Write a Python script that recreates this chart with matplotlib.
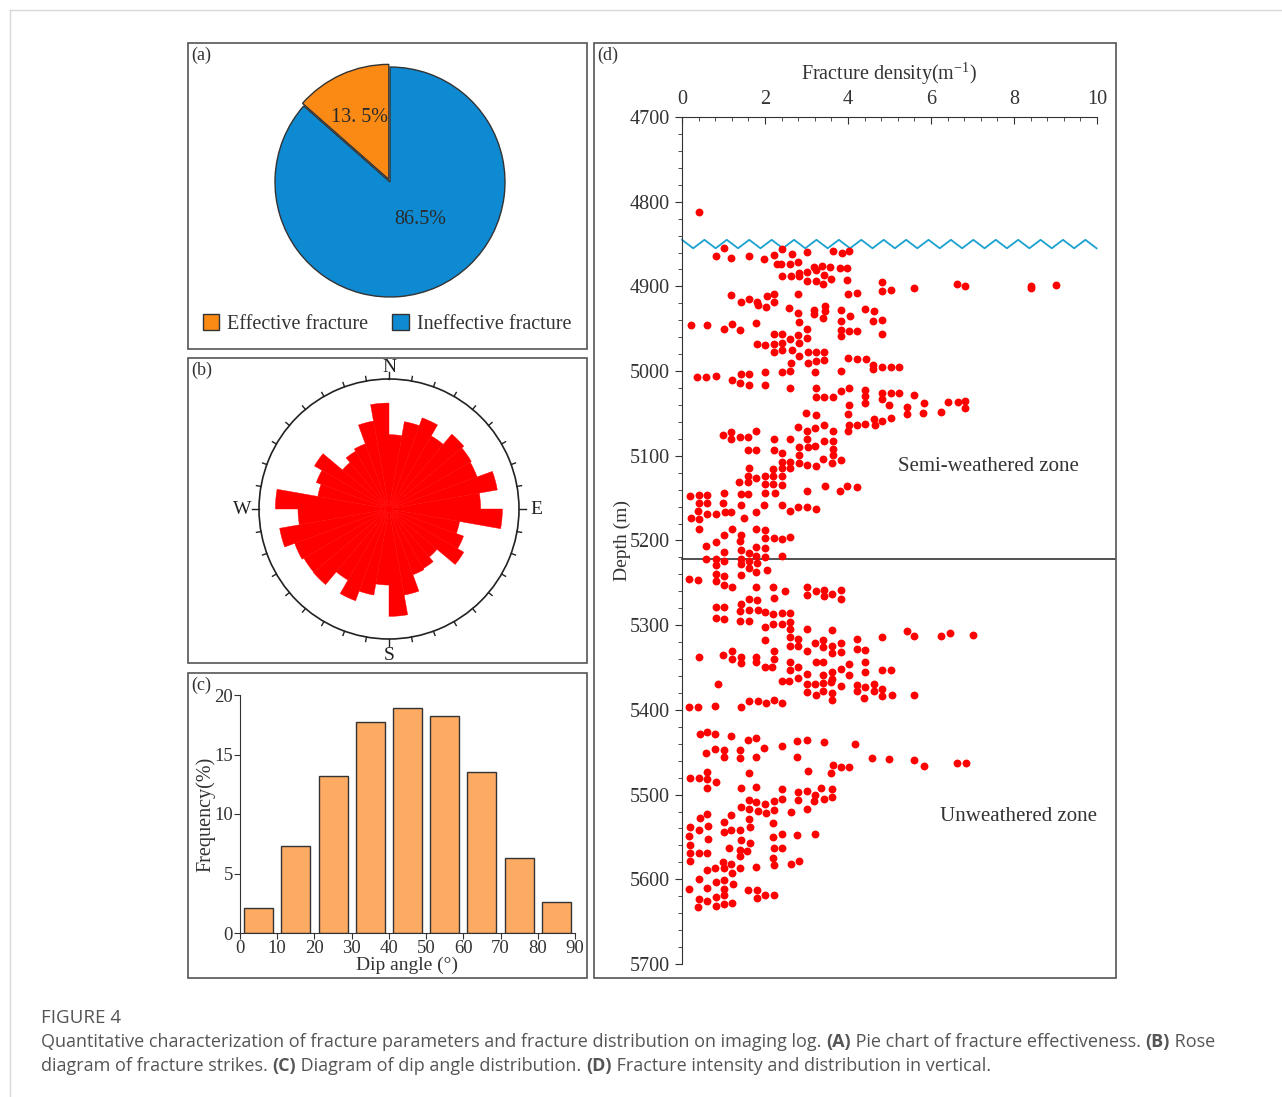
import numpy as np
import matplotlib.pyplot as plt
from matplotlib.patches import Rectangle, Patch
from matplotlib.lines import Line2D

plt.rcParams['font.family'] = ['Liberation Serif', 'DejaVu Serif']
plt.rcParams['mathtext.fontset'] = 'custom'
plt.rcParams['mathtext.rm'] = 'Liberation Serif'

W, H = 1282, 1097


def box(l, t, r, b):
    # pixel rectangle (left, top, right, bottom) -> figure fraction
    return [l / W, 1 - b / H, (r - l) / W, (b - t) / H]


# (a) fracture effectiveness
pie_labels = ['Effective fracture', 'Ineffective fracture']
pie_values = [13.5, 86.5]
pie_text = ['13. 5%', '86.5%']
pie_colors = ['#FA8A14', '#0D8AD2']

# (b) strike rose, 10 degree bins clockwise from north
strike_bins = np.arange(0, 360, 10)
strike_freq = [5.72, 6.82, 7.46, 6.49, 7.51, 7.31, 7.21, 8.46, 7.05,
               8.72, 5.51, 6.10, 6.64, 4.82, 5.28, 5.38, 6.72, 8.26,
               5.85, 6.72, 7.51, 6.31, 7.59, 7.56, 7.72, 8.54, 7.00,
               8.74, 5.56, 5.95, 6.62, 4.67, 5.13, 5.33, 6.87, 8.15]

# (c) dip angle distribution
dip_centers = [5, 15, 25, 35, 45, 55, 65, 75, 85]
dip_freq = [2.1, 7.3, 13.2, 17.7, 18.9, 18.2, 13.5, 6.3, 2.6]

# (d) fracture density vs depth
density = [
    0.40,
    1.01, 0.82, 1.19, 1.61, 1.97, 2.21, 2.41, 2.64, 3.01, 3.64, 3.86, 4.02,
    2.29, 2.38, 2.60, 2.80, 3.19, 3.22, 3.38, 3.57, 3.80, 3.97, 2.41, 2.62,
    2.82, 2.82, 3.00, 3.02, 3.22, 3.40, 3.41, 3.60, 3.97, 4.83, 4.83, 5.03,
    5.58, 4.00, 4.22, 1.19, 1.41, 1.61, 1.81, 1.82, 2.04, 2.21, 2.21, 2.03,
    2.80, 2.57, 2.80, 3.19, 3.19, 3.44, 3.44, 3.40, 3.82, 4.05, 4.42, 4.63,
    4.60, 4.83, 4.83, 0.21, 0.60, 1.01, 1.21, 1.39, 1.78, 2.82, 3.02, 3.82,
    3.82, 3.82, 4.02, 4.22, 2.21, 2.41, 2.60, 2.80, 3.00, 1.81, 2.01, 2.21,
    2.41, 2.82, 2.21, 2.41, 2.64, 2.82, 3.03, 3.03, 3.22, 3.22, 3.43, 3.43,
    2.62, 3.99, 4.22, 4.43, 4.61, 4.61, 4.83, 5.03, 5.23, 3.20, 3.82, 0.37,
    0.59, 0.82, 1.21, 1.41, 1.61, 1.39, 1.61, 2.01, 2.01, 2.41, 2.61, 2.61,
    3.23, 3.23, 3.43, 3.65, 3.82, 4.03, 4.42, 4.42, 4.83, 4.83, 5.04, 5.23,
    5.58,
    6.62, 6.82, 8.41, 8.41, 9.02, 5.43, 5.43, 5.82, 5.80, 6.23, 6.42, 6.64,
    6.82, 6.82,
    4.02, 4.42, 4.99, 2.98, 3.22, 4.01, 4.02, 4.01, 4.22, 4.42, 4.63, 4.65,
    4.83, 5.03, 0.99, 1.19, 1.19, 1.39, 1.59, 1.79, 2.22, 2.61, 2.80, 3.00,
    3.00, 3.20, 3.42, 3.64, 3.03, 3.20, 3.42, 3.64, 3.64, 3.64, 3.62, 3.40,
    3.82, 2.82, 2.82, 2.82, 3.02, 3.22, 1.58, 1.79, 2.22, 2.41, 2.41, 2.41,
    2.41, 2.61, 2.61, 1.61, 1.59, 1.79, 2.00, 2.00, 2.19, 2.19, 2.19, 2.40,
    1.37, 1.59, 1.41, 1.59, 2.00, 2.24, 3.00, 3.44, 3.81, 3.98, 4.22, 0.19,
    0.41, 0.61, 0.41, 0.61, 1.01, 0.99, 1.03, 1.19, 1.41, 1.78, 1.98, 2.41,
    2.61, 2.80, 3.00, 3.22, 0.21, 0.39, 0.41, 0.60, 0.83, 0.41, 1.49, 1.21,
    1.01, 1.41, 1.79, 2.01, 2.01, 2.21, 2.41, 2.61, 0.59, 0.81, 1.39, 1.01,
    1.41, 1.61, 1.79, 2.00, 2.00, 1.79, 2.41, 0.59, 0.81, 1.01, 1.41, 1.61,
    1.81,
    0.81, 1.41, 0.81, 1.01, 1.41, 1.61, 1.79, 2.04, 0.16, 0.39, 0.81, 1.01,
    1.21, 1.79, 2.20, 2.48, 2.22, 3.00, 3.00, 3.22, 3.43, 3.43, 3.62, 3.83,
    3.83, 1.61, 1.81, 1.42, 0.81, 1.01, 1.39, 1.61, 1.82, 2.01, 2.20, 2.41,
    2.61, 0.81, 1.01, 1.39, 1.61, 2.00, 2.20, 2.40, 2.60, 2.61, 2.00, 2.60,
    2.80, 2.80, 2.60, 3.02, 3.62, 3.00, 3.20, 3.40, 3.40, 3.62, 3.62, 3.82,
    3.82, 4.21, 4.21, 4.42, 4.83, 5.43, 5.59, 0.40, 0.99, 1.21, 1.21, 1.41,
    1.41, 1.79, 1.79, 2.00, 2.17, 2.22, 2.22, 2.61, 2.60, 2.80, 3.00, 3.22,
    3.40, 3.40, 3.62, 3.62, 3.82, 3.82, 4.02, 4.02, 4.41, 4.41, 4.81, 5.04,
    2.80, 2.40, 2.57, 0.87, 3.00, 3.20, 3.40, 3.60, 3.00, 3.22, 3.40, 3.62,
    3.62, 4.21, 4.21, 4.42, 4.38, 4.63, 4.63, 4.83, 4.81, 5.05, 5.59, 0.18,
    0.39, 0.79, 1.43, 1.61, 1.82, 2.03, 2.21, 2.42, 6.23, 6.46, 7.02,
    0.43, 0.61, 0.80, 1.19, 1.59, 1.79, 1.98, 2.40, 2.78, 3.00, 3.43, 4.18,
    0.59, 0.80, 1.01, 1.01, 1.39, 1.39, 1.79, 2.78, 4.59, 4.99, 5.58, 3.65,
    3.83, 4.02, 3.60, 3.03, 1.61, 0.60, 0.20, 0.40, 0.60, 0.81, 0.60, 1.41,
    1.79, 2.41, 2.80, 3.00, 3.20, 3.36, 3.62, 3.42, 3.62, 3.19, 2.80, 2.41,
    2.21, 2.00, 1.79, 1.61, 1.41, 1.61, 1.83, 2.03, 2.22, 2.62, 3.00, 1.19,
    0.60, 0.43, 0.19, 0.40, 0.63, 1.01, 1.61, 1.65, 2.20, 1.01, 1.19, 1.39,
    0.16, 0.63, 1.41, 1.63, 2.20, 2.41, 2.78, 3.20, 0.19, 1.13, 1.39, 1.57,
    2.21, 2.41, 0.20, 0.40, 0.61, 1.39, 0.20, 2.20, 2.21, 2.62, 2.82, 0.99,
    1.19, 1.78, 0.80, 1.01, 1.39, 0.61, 1.21, 0.40, 0.81, 1.01, 1.23, 0.17,
    0.61, 1.01, 1.59, 1.81, 1.81, 2.00, 2.21, 1.01, 0.40, 0.61, 0.81, 0.81,
    1.01, 1.21, 0.39, 5.82, 6.62, 6.84,
]
depth = [
    4812,
    4855, 4864, 4867, 4864, 4868, 4863, 4856, 4862, 4859, 4858, 4861, 4858,
    4874, 4874, 4873, 4871, 4877, 4881, 4876, 4877, 4878, 4878, 4888, 4888,
    4884, 4888, 4883, 4894, 4894, 4897, 4886, 4891, 4893, 4895, 4905, 4904,
    4902, 4909, 4908, 4910, 4918, 4915, 4918, 4922, 4911, 4909, 4918, 4924,
    4909, 4925, 4931, 4928, 4933, 4923, 4929, 4937, 4928, 4935, 4927, 4929,
    4941, 4940, 4956, 4946, 4945, 4950, 4944, 4951, 4943, 4942, 4950, 4941,
    4951, 4959, 4953, 4953, 4956, 4956, 4962, 4957, 4961, 4968, 4969, 4968,
    4967, 4967, 4977, 4975, 4975, 4982, 4978, 4990, 4978, 4988, 4978, 4987,
    4990, 4985, 4986, 4986, 4993, 4997, 4995, 4995, 4995, 5001, 5000, 5007,
    5007, 5006, 5010, 5003, 5004, 5014, 5017, 5001, 5017, 5001, 5000, 5020,
    5020, 5031, 5031, 5031, 5023, 5020, 5022, 5029, 5026, 5033, 5026, 5026,
    5028,
    4897, 4900, 4899, 4902, 4898, 5042, 5051, 5038, 5049, 5048, 5036, 5036,
    5035, 5044,
    5040, 5038, 5040, 5050, 5052, 5051, 5064, 5071, 5064, 5062, 5056, 5064,
    5059, 5055, 5075, 5072, 5080, 5078, 5078, 5071, 5080, 5080, 5066, 5071,
    5080, 5067, 5064, 5071, 5090, 5088, 5082, 5082, 5092, 5099, 5108, 5104,
    5105, 5090, 5099, 5108, 5111, 5112, 5093, 5093, 5093, 5097, 5107, 5114,
    5124, 5107, 5114, 5114, 5124, 5126, 5124, 5133, 5116, 5124, 5133, 5135,
    5131, 5131, 5145, 5145, 5144, 5144, 5141, 5136, 5141, 5136, 5137, 5148,
    5146, 5146, 5156, 5156, 5144, 5156, 5166, 5166, 5158, 5166, 5158, 5158,
    5165, 5160, 5160, 5163, 5173, 5165, 5175, 5169, 5169, 5186, 5173, 5186,
    5193, 5193, 5186, 5188, 5197, 5197, 5198, 5196, 5206, 5202, 5201, 5213,
    5211, 5215, 5208, 5209, 5219, 5218, 5218, 5222, 5222, 5224, 5222, 5224,
    5226,
    5229, 5228, 5239, 5242, 5241, 5233, 5237, 5235, 5245, 5247, 5248, 5253,
    5255, 5255, 5255, 5260, 5268, 5255, 5264, 5260, 5258, 5266, 5263, 5258,
    5269, 5269, 5270, 5275, 5279, 5278, 5283, 5282, 5282, 5284, 5287, 5286,
    5286, 5292, 5293, 5295, 5295, 5302, 5299, 5299, 5296, 5305, 5317, 5314,
    5316, 5325, 5325, 5305, 5306, 5330, 5321, 5318, 5326, 5324, 5333, 5321,
    5332, 5316, 5328, 5329, 5314, 5307, 5313, 5337, 5335, 5331, 5340, 5337,
    5345, 5337, 5344, 5349, 5349, 5340, 5331, 5343, 5353, 5349, 5358, 5344,
    5344, 5359, 5355, 5363, 5352, 5372, 5346, 5359, 5344, 5355, 5353, 5353,
    5362, 5366, 5366, 5369, 5369, 5369, 5368, 5367, 5379, 5382, 5378, 5380,
    5388, 5371, 5378, 5373, 5386, 5370, 5378, 5375, 5384, 5382, 5382, 5396,
    5396, 5395, 5396, 5389, 5389, 5392, 5388, 5392, 5313, 5309, 5311,
    5428, 5426, 5429, 5431, 5435, 5433, 5445, 5443, 5437, 5436, 5438, 5440,
    5451, 5446, 5447, 5456, 5447, 5457, 5456, 5456, 5457, 5458, 5459, 5465,
    5468, 5467, 5475, 5472, 5474, 5473, 5480, 5480, 5482, 5485, 5492, 5492,
    5491, 5493, 5497, 5496, 5500, 5492, 5493, 5505, 5503, 5507, 5506, 5505,
    5508, 5511, 5509, 5506, 5515, 5517, 5519, 5522, 5518, 5520, 5517, 5524,
    5523, 5528, 5538, 5542, 5537, 5532, 5529, 5538, 5533, 5544, 5542, 5542,
    5549, 5552, 5554, 5557, 5550, 5546, 5548, 5546, 5559, 5563, 5565, 5567,
    5563, 5563, 5569, 5569, 5569, 5573, 5578, 5575, 5583, 5582, 5578, 5579,
    5582, 5586, 5587, 5587, 5587, 5589, 5592, 5600, 5603, 5601, 5606, 5611,
    5610, 5611, 5613, 5613, 5622, 5618, 5618, 5618, 5623, 5626, 5621, 5631,
    5629, 5628, 5633, 5466, 5463, 5463,
]
unconformity_depth = 4850
zone_boundary = 5222
zone_labels = ['Semi-weathered zone', 'Unweathered zone']

fig = plt.figure(figsize=(W / 100, H / 100), dpi=100)

# light page frame and panel frames
fig.add_artist(Line2D([10 / W, 10 / W], [0, 1 - 10 / H], color='#d8d8d8', lw=1))
fig.add_artist(Line2D([10 / W, 1], [1 - 10 / H, 1 - 10 / H], color='#d8d8d8', lw=1))
for l, t, r, b in [(188, 43, 587, 349), (188, 358, 587, 663), (188, 673, 587, 978), (594, 43, 1116, 978)]:
    x, y, w, h = box(l, t, r, b)
    fig.add_artist(Rectangle((x, y), w, h, transform=fig.transFigure, fill=False, ec='#555555', lw=1.2))
for lab, (px, py) in zip(['(a)', '(b)', '(c)', '(d)'], [(191, 55), (191, 370), (191, 685), (597, 55)]):
    fig.text(px / W, 1 - py / H, lab, fontsize=13, color='#333', ha='left', va='center')

# (a) pie
ax_a = fig.add_axes(box(275, 67, 505, 297))
wedges, _ = ax_a.pie(pie_values, colors=pie_colors, startangle=90, counterclock=True,
                     explode=[0.025, 0], wedgeprops=dict(edgecolor='#333333', linewidth=1))
for w, txt, rr, off in zip(wedges, pie_text, [0.62, 0.42], [1, 14]):
    ang = np.deg2rad((w.theta1 + w.theta2) / 2 + off)
    ax_a.text(rr * np.cos(ang), rr * np.sin(ang), txt, fontsize=14.5, color='#2a2a2a',
              ha='center', va='center')
ax_a.set_xlim(-1, 1)
ax_a.set_ylim(-1, 1)
ax_a.set_aspect('equal')
handles = [Patch(facecolor=c, edgecolor='#333333') for c in pie_colors]
fig.legend(handles, pie_labels, loc='center', bbox_to_anchor=(387 / W, 1 - 324 / H), ncol=2,
           frameon=False, fontsize=14.5, handlelength=0.8, handleheight=0.8,
           handletextpad=0.4, columnspacing=1.2, labelcolor='#333')

# (b) rose diagram
ax_b = fig.add_axes(box(259, 379, 519, 639), projection='polar')
ax_b.set_theta_zero_location('N')
ax_b.set_theta_direction(-1)
ax_b.bar(np.deg2rad(strike_bins + 5), strike_freq, width=np.deg2rad(10), color='#FF0000',
         edgecolor='#FF0000', linewidth=0.3)
ax_b.set_ylim(0, 10)
ax_b.set_xticks([])
ax_b.set_yticks([])
ax_b.grid(False)
ax_b.spines['polar'].set_color('#222')
ax_b.spines['polar'].set_linewidth(1.2)
for a in range(0, 360, 10):
    L = 10.55 if a % 90 == 0 else 10.35
    ax_b.plot([np.deg2rad(a)] * 2, [10, L], color='#222', lw=1, clip_on=False)
for lab, a, rr in zip(['N', 'E', 'S', 'W'], [0, 90, 180, 270], [10.85, 11.3, 11.25, 11.3]):
    ax_b.text(np.deg2rad(a), rr, lab, fontsize=14, ha='center', va='center', color='#222')

# (c) dip angle histogram
ax_c = fig.add_axes(box(240, 695, 575, 933))
ax_c.bar(dip_centers, dip_freq, width=7.8, color='#FDAA62', edgecolor='#333333', linewidth=1)
ax_c.set_xlim(0, 90)
ax_c.set_ylim(0, 20)
ax_c.set_xticks(range(0, 91, 10))
ax_c.set_yticks(range(0, 21, 5))
ax_c.tick_params(direction='out', length=4, labelsize=13.5, colors='#333', pad=1)
for s in ['top', 'right']:
    ax_c.spines[s].set_visible(False)
for s in ['left', 'bottom']:
    ax_c.spines[s].set_color('#333')
ax_c.set_xlabel('Dip angle (°)', fontsize=14, color='#333', labelpad=0)
ax_c.set_ylabel('Frequency(%)', fontsize=14.5, color='#333', labelpad=-1)

# (d) fracture density vs depth
ax_d = fig.add_axes(box(682, 117, 1097, 964))
ax_d.scatter(density, depth, s=32, color='#FF0000', linewidths=0, zorder=3)
ax_d.set_xlim(0, 10)
ax_d.set_ylim(5700, 4700)
ax_d.xaxis.tick_top()
ax_d.xaxis.set_label_position('top')
ax_d.set_xticks(np.arange(0, 11, 2))
ax_d.set_xticks(np.arange(0, 10.01, 0.4), minor=True)
ax_d.set_yticks(np.arange(4700, 5701, 100))
ax_d.set_yticks(np.arange(4700, 5701, 20), minor=True)
ax_d.tick_params(axis='x', which='both', direction='in', labelsize=14.5, colors='#333', pad=6)
ax_d.tick_params(axis='x', which='major', length=5)
ax_d.tick_params(axis='x', which='minor', length=3)
ax_d.tick_params(axis='y', which='both', direction='out', labelsize=14.5, colors='#333')
ax_d.tick_params(axis='y', which='major', length=5)
ax_d.tick_params(axis='y', which='minor', length=3)
for s in ['bottom', 'right']:
    ax_d.spines[s].set_visible(False)
for s in ['top', 'left']:
    ax_d.spines[s].set_color('#333')
ax_d.set_xlabel('Fracture density(m$^{\\mathrm{-1}}$)', fontsize=14.5, color='#333', labelpad=7)
ax_d.set_ylabel('Depth (m)', fontsize=14, color='#333', labelpad=-1)

# unconformity zigzag and zone boundary
zx = np.arange(0, 10.2, 0.27)
zy = unconformity_depth + np.where(np.arange(len(zx)) % 2 == 0, -5, 5)
ax_d.plot(zx, zy, color='#1BA1CF', lw=1.3, clip_on=False, zorder=2)
ax_d.plot([0, 10.44], [zone_boundary] * 2, color='#333', lw=1.2, clip_on=False, zorder=2)
ax_d.text(7.38, 5113, zone_labels[0], fontsize=15, color='#333', ha='center', va='center')
ax_d.text(8.1, 5526, zone_labels[1], fontsize=15, color='#333', ha='center', va='center')

# caption
fig.text(41 / W, 1 - 1018 / H, 'FIGURE 4', fontsize=13.5, color='#555', family='Open Sans',
         va='center', ha='left')
renderer = fig.canvas.get_renderer()


def caption_line(y, runs):
    x = 41
    for s, bold in runs:
        t = fig.text(x / W, 1 - y / H, s, fontsize=13, color='#555', family='Open Sans',
                     fontweight='bold' if bold else 'normal', va='center', ha='left')
        x += t.get_window_extent(renderer=renderer).width


caption_line(1042, [('Quantitative characterization of fracture parameters and fracture distribution on imaging log. ', False),
                    ('(A)', True), (' Pie chart of fracture effectiveness. ', False), ('(B)', True), (' Rose', False)])
caption_line(1066, [('diagram of fracture strikes. ', False), ('(C)', True),
                    (' Diagram of dip angle distribution. ', False), ('(D)', True),
                    (' Fracture intensity and distribution in vertical.', False)])

fig.savefig('out.png', dpi=100)
